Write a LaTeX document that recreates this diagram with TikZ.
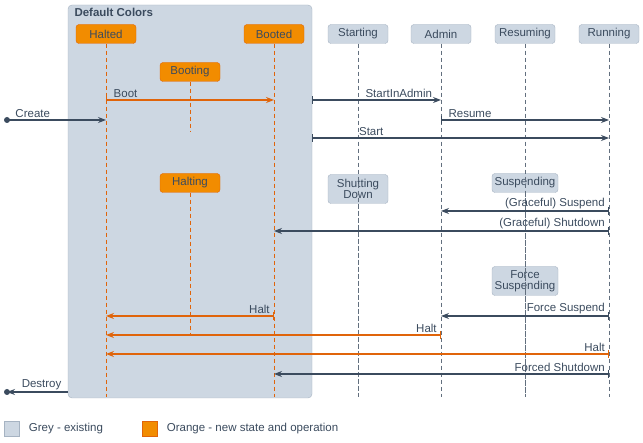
\documentclass[tikz,border=0pt]{standalone}
\usepackage{fontspec}
\setmainfont{Liberation Sans}
\usetikzlibrary{arrows.meta, calc}
\definecolor{greyfill}{HTML}{CDD7E2}
\definecolor{greyline}{HTML}{A6B3C2}
\definecolor{orfill}{HTML}{F28C00}
\definecolor{orline}{HTML}{E0640A}
\definecolor{ink}{HTML}{3B4B5E}
\tikzset{
  state/.style={draw, rounded corners=3pt, minimum width=60pt, minimum height=19pt, inner sep=1pt, align=center, font=\fontsize{11.5}{11.5}\selectfont, text=ink},
  grey/.style={state, fill=greyfill, draw=greyline},
  orange/.style={state, fill=orfill, draw=orline},
  life/.style={dash pattern=on 4pt off 3pt, line width=1pt},
  msg/.style={-{Stealth[length=8pt]}, draw=ink, line width=1.1pt},
  omsg/.style={-{Stealth[length=8pt]}, draw=orline, line width=1.3pt},
  lbl/.style={font=\fontsize{11.5}{13}\selectfont, text=ink, inner sep=2pt}
}
\begin{document}
\begin{tikzpicture}[x=1pt, y=-1pt]
        \useasboundingbox (0,0) rectangle (643,443);
        % Default colors panel
        \draw[fill=greyfill, draw=greyline, rounded corners=4pt] (68,5) rectangle (312,398);
        \node[anchor=north west, font=\bfseries\fontsize{11.5}{13}\selectfont, text=ink] at (71,5) {Default Colors};

        % States
        \node[orange] (halted) at (106,34) {Halted};
        \node[orange] (booted) at (274,34) {Booted};
        \node[orange] (booting) at (190,72) {Booting};
        \node[orange] (halting) at (190,183) {Halting};
        \node[grey] (starting) at (358,34) {Starting};
        \node[grey] (admin) at (441,34) {Admin};
        \node[grey] (resuming) at (525,34) {Resuming};
        \node[grey] (running) at (609,34) {Running};
        \node[grey, minimum height=29pt, font=\fontsize{11.5}{11}\selectfont] (shutting) at (358,189) {Shutting\\Down};
        \node[grey, minimum width=66pt] (suspending) at (525,183) {Suspending};
        \node[grey, minimum width=66pt, minimum height=29pt, font=\fontsize{11.5}{11}\selectfont] (forcesusp) at (525,281) {Force\\Suspending};

        % Lifelines
        \foreach \n in {halted, booted} \draw[life, orline] (\n.south) -- (\n |- 0,397);
        \foreach \n/\e in {booting/132, halting/335} \draw[life, orline] (\n.south) -- (\n |- 0,\e);
        \foreach \n in {starting, admin, resuming, running} \draw[life, ink!80] (\n.south) -- (\n |- 0,397);
        \foreach \n in {shutting, suspending, forcesusp} \draw[life, ink!80] (\n.south) -- (\n |- 0,397);

        % Messages
        \coordinate (create) at (7,120);
        \coordinate (destroy) at (7,392);
        \coordinate (edge) at (312,0);
        \fill[ink] (create) circle(3pt);
        \fill[ink] (destroy) circle(3pt);
        \draw[msg] (create) -- (create -| halted) node[lbl, pos=0.06, above right] {Create};
        \draw[omsg, {Bar[width=8pt]}-{Stealth[length=8pt]}] (halted |- 0,100) -- (booted |- 0,100) node[lbl, pos=0.03, above right] {Boot};
        \draw[msg, {Bar[width=8pt]}-{Stealth[length=8pt]}] (edge |- 0,100) -- (admin |- 0,100) node[lbl, pos=0.95, above left] {StartInAdmin};
        \draw[msg, {Bar[width=8pt]}-{Stealth[length=8pt]}] (admin |- 0,120) -- (running |- 0,120) node[lbl, pos=0.03, above right] {Resume};
        \draw[msg, {Bar[width=8pt]}-{Stealth[length=8pt]}] (edge |- 0,138) -- (running |- 0,138) node[lbl, pos=0.15, above right] {Start};
        \draw[msg, {Bar[width=8pt]}-{Stealth[length=8pt]}] (running |- 0,211) -- (admin |- 0,211) node[lbl, pos=0.01, above left] {(Graceful) Suspend};
        \draw[msg, {Bar[width=8pt]}-{Stealth[length=8pt]}] (running |- 0,231) -- (booted |- 0,231) node[lbl, pos=0.005, above left] {(Graceful) Shutdown};
        \draw[msg, {Bar[width=8pt]}-{Stealth[length=8pt]}] (running |- 0,316) -- (admin |- 0,316) node[lbl, pos=0.01, above left] {Force Suspend};
        \draw[omsg, {Bar[width=8pt]}-{Stealth[length=8pt]}] (booted |- 0,316) -- (halted |- 0,316) node[lbl, pos=0.01, above left] {Halt};
        \draw[omsg, {Bar[width=8pt]}-{Stealth[length=8pt]}] (admin |- 0,335) -- (halted |- 0,335) node[lbl, pos=0.005, above left] {Halt};
        \draw[omsg, {Bar[width=8pt]}-{Stealth[length=8pt]}] (running |- 0,354) -- (halted |- 0,354) node[lbl, pos=0.003, above left] {Halt};
        \draw[msg, {Bar[width=8pt]}-{Stealth[length=8pt]}] (running |- 0,374) -- (booted |- 0,374) node[lbl, pos=0.005, above left] {Forced Shutdown};
        \draw[msg] (68,392) -- (destroy) node[lbl, pos=0.8, above right] {Destroy};

        % Legend
        \node[draw=greyline, fill=greyfill, minimum size=15pt, inner sep=0pt] (kgrey) at (12,429) {};
        \node[lbl, anchor=west] at ($(kgrey.east)+(7,0)$) {Grey - existing};
        \node[draw=orline, fill=orfill, minimum size=15pt, inner sep=0pt] (korange) at (150,429) {};
        \node[lbl, anchor=west] at ($(korange.east)+(7,0)$) {Orange - new state and operation};
\end{tikzpicture}
\end{document}
